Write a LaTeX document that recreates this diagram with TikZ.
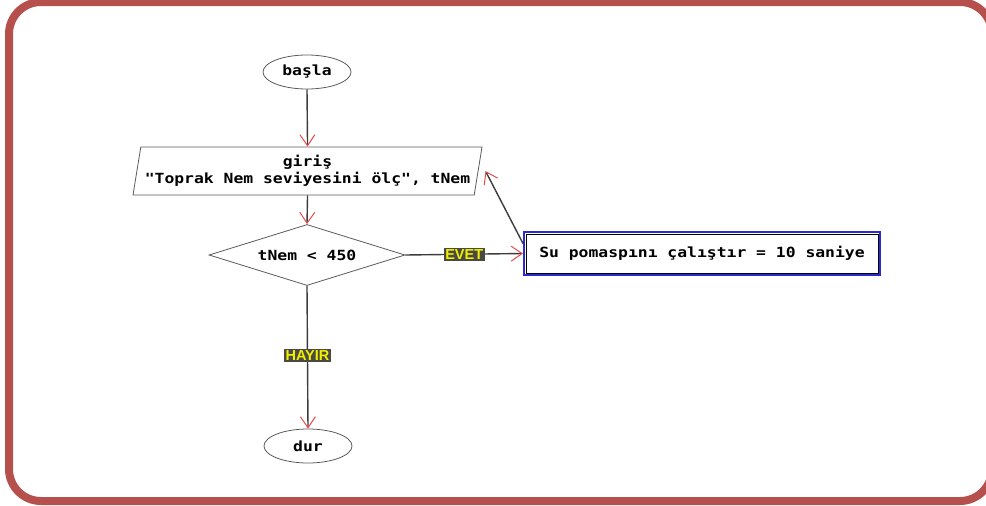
\documentclass[tikz,border=0pt]{standalone}
\usepackage{fontspec}
\usetikzlibrary{shapes.geometric,arrows.meta,calc}
\newfontfamily\monob[FakeStretch=1.17]{DejaVu Sans Mono}
\newfontfamily\labfont{Liberation Sans}
\definecolor{frame}{HTML}{B5504D}
\definecolor{flowgray}{HTML}{3C3C3C}
\definecolor{shapegray}{HTML}{5A5A5A}
\definecolor{tipred}{HTML}{E84A4A}
\definecolor{boxblue}{HTML}{2A2AD0}
\definecolor{labbg}{HTML}{4A4A42}
\definecolor{labfg}{HTML}{F0F000}
\tikzset{
  txt/.style={font=\monob\bfseries\fontsize{14}{17}\selectfont, text=black},
  term/.style={txt, ellipse, draw=shapegray, line width=0.8pt, minimum width=88pt, minimum height=34pt, inner sep=0pt},
  io/.style={txt, trapezium, trapezium left angle=76, trapezium right angle=104, trapezium stretches body, draw=shapegray, line width=0.8pt, minimum width=349pt, minimum height=48pt, inner sep=0pt, align=center},
  decision/.style={txt, diamond, shape aspect=3.2, draw=shapegray, line width=0.8pt, minimum width=196pt, minimum height=61pt, inner sep=0pt},
  procbox/.style={txt, rectangle, draw=boxblue, line width=2pt, minimum width=356pt, minimum height=43pt, inner sep=0pt},
  flow/.style={draw=flowgray, line width=1.4pt, -{Straight Barb[color=tipred, line width=1pt, length=11pt, width=15pt]}},
  lab/.style={font=\labfont\bfseries\fontsize{14.5}{14.5}\selectfont, text=labfg, fill=labbg, inner xsep=1.5pt, inner ysep=1.5pt},
}
\begin{document}
\begin{tikzpicture}[x=1pt,y=-1pt]
\useasboundingbox (0,0) rectangle (986,506);
\begin{scope}
\clip (0,0) rectangle (986,506);
\draw[frame, line width=8pt, rounded corners=32pt] (9,2) rectangle (992,501);
\end{scope}

\node[term] (start) at (307,72) {başla};
\node[io] (input) at (307.5,171) {giriş\\"Toprak Nem seviyesini ölç", tNem};
\node[decision] (dec) at (307,255) {tNem < 450};
\node[procbox] (act) at (702,253.5) {Su pomaspını çalıştır = 10 saniye};
\draw[black, line width=0.9pt] ($(act.south west)+(3,-3)$) rectangle ($(act.north east)+(-3,3)$);
\node[term] (stop) at (308,446) {dur};

\coordinate (backstart) at ($(act.west)+(0,-10)$);
\coordinate (backend) at ($(input.east)+(7,0)$);

\draw[flow] (start.south) -- (input.north);
\draw[flow] (input.south) -- (dec.north);
\draw[flow] (dec.east) -- node[lab] {EVET} (act.west);
\draw[flow] (dec.south) -- node[lab, pos=0.49] {HAYIR} (stop.north);
\draw[flow] (backstart) -- (backend);
\end{tikzpicture}
\end{document}
